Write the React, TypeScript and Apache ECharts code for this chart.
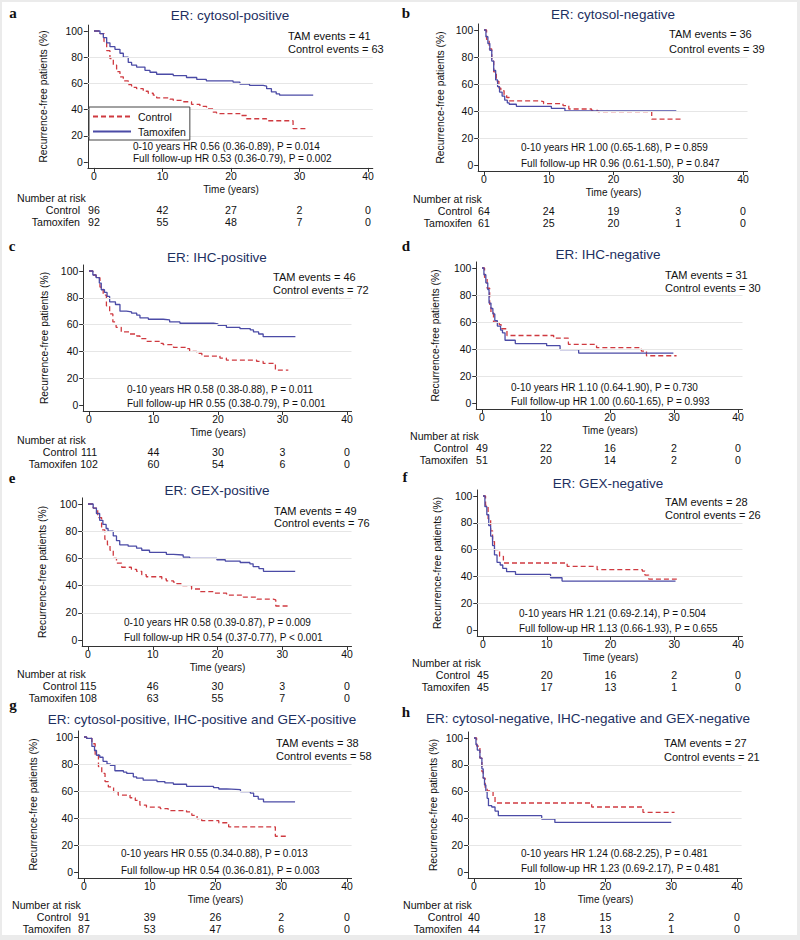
import React, { useEffect, useRef } from "react";
import * as echarts from "echarts";

// ---------- tick values ----------
const X_TICKS = [0, 10, 20, 30, 40];
const Y_TICKS = [0, 20, 40, 60, 80, 100];
const GRID_LINES = [20, 40, 60, 80];
const RISK_TIMES = [0, 10, 20, 30, 40];

// ---------- panel a : ER cytosol-positive ----------
const aTamT = [0, 0.87, 1.36, 1.85, 2.33, 3.06, 3.79, 4.28, 5.0, 5.49, 6.22, 7.44, 8.17, 9.14, 11.57, 13.5, 15.0, 16.4, 20.3, 21.3, 22.7, 24.7, 25.2, 25.9, 26.6, 27.1, 32.0];
const aTamS = [100, 98, 95, 91, 88, 86, 83, 80, 76, 74, 72.5, 70, 68.5, 67, 66, 64.5, 63, 62, 61, 59.5, 58.5, 58, 56, 53.5, 52, 51, 51];
const aConT = [0, 0.87, 1.46, 1.85, 2.33, 2.82, 3.3, 3.79, 4.28, 5.0, 5.49, 6.22, 7.19, 7.92, 8.65, 9.14, 11.08, 11.57, 13.03, 14.24, 15.46, 16.43, 17.4, 17.89, 21.29, 22.26, 25.18, 29.06, 31.0];
const aConS = [100, 98, 92, 85, 79, 74, 69, 65, 62, 59, 57, 56, 54, 52.5, 51, 49, 48, 47, 46, 44, 42.5, 40.5, 38, 37, 35.5, 33, 31.5, 25.5, 25.5];
const aRiskCon = [96, 42, 27, 2, 0];
const aRiskTam = [92, 55, 48, 7, 0];

// ---------- panel b : ER cytosol-negative ----------
const bTamT = [0, 0.3, 0.6, 0.9, 1.2, 1.5, 1.8, 2.1, 2.4, 2.8, 3.2, 3.6, 3.9, 5.0, 10.4, 12.5, 29.7];
const bTamS = [100, 95, 90, 85, 77, 70, 63, 58, 54, 51, 48, 46, 45, 43.5, 42, 40, 40];
const bConT = [0, 0.4, 0.8, 1.2, 1.5, 1.9, 2.3, 2.6, 3.1, 3.5, 3.9, 8.4, 9.2, 12.2, 13.1, 16.6, 17.6, 25.9, 30.7];
const bConS = [100, 93, 86, 77, 69, 62, 57, 55, 52, 50, 47.5, 47, 45.5, 44, 41.5, 40.5, 39.5, 34, 34];
const bRiskCon = [64, 24, 19, 3, 0];
const bRiskTam = [61, 25, 20, 1, 0];

// ---------- panel c : ER IHC-positive ----------
const cTamT = [0, 0.6, 1.1, 1.6, 1.9, 2.4, 2.8, 3.2, 4.1, 4.8, 5.8, 6.6, 7.4, 7.9, 9.2, 11.5, 12.5, 14.1, 19.3, 20.0, 21.3, 23.4, 25.0, 25.5, 26.3, 27.0, 32.0];
const cTamS = [100, 97, 95, 91, 86, 84, 81, 77, 75, 70, 69.5, 68.5, 67, 65, 64, 63.5, 62, 61, 60.5, 59.5, 58, 57, 56, 54.5, 53, 51, 51];
const cConT = [0, 0.6, 1.1, 1.7, 2.2, 2.7, 3.2, 3.7, 4.2, 5.0, 6.3, 7.4, 7.9, 8.9, 11.0, 11.5, 13.1, 15.1, 15.6, 16.7, 17.5, 20.3, 21.3, 26.0, 27.0, 28.9, 30.9];
const cConS = [100, 97, 95, 88, 82, 74, 68, 62, 58, 54.5, 53, 51.5, 49.5, 47.5, 46, 45, 43, 42, 40, 38.5, 36.5, 35, 33.5, 32.5, 31, 26, 26];
const cRiskCon = [111, 44, 30, 3, 0];
const cRiskTam = [102, 60, 54, 6, 0];

// ---------- panel d : ER IHC-negative ----------
const dTamT = [0, 0.3, 0.6, 0.9, 1.1, 1.4, 1.7, 2.0, 2.4, 2.9, 3.2, 3.6, 5.2, 10.1, 12.2, 15.1, 29.9];
const dTamS = [100, 95, 89, 84, 74, 70, 66, 61, 57, 54, 52, 46.5, 44, 42.5, 39.5, 37, 37];
const dConT = [0, 0.4, 0.8, 1.2, 1.4, 1.8, 2.7, 3.0, 3.9, 11.2, 13.5, 17.9, 24.9, 25.7, 30.4];
const dConS = [100, 93, 85, 73, 67, 60, 58, 55, 50, 48, 43.5, 41, 38.5, 35, 35];
const dRiskCon = [49, 22, 16, 2, 0];
const dRiskTam = [51, 20, 14, 2, 0];

// ---------- panel e : ER GEX-positive ----------
const eTamT = [0, 0.8, 1.3, 1.8, 2.3, 2.8, 3.1, 3.9, 4.4, 4.9, 6.2, 7.5, 8.3, 9.5, 12.1, 13.2, 14.7, 15.7, 19.9, 21.2, 23.5, 25.0, 25.5, 26.4, 27.1, 32.0];
const eTamS = [100, 97, 93, 88, 85, 82, 80, 76.5, 73, 70, 69, 67.5, 66, 64.5, 63, 62.5, 61, 60, 59, 58, 57, 56, 54, 52.5, 50.5, 50.5];
const eConT = [0, 0.8, 1.5, 2.1, 2.6, 3.0, 3.4, 3.9, 4.4, 5.2, 6.7, 7.5, 8.3, 9.0, 11.4, 12.1, 13.2, 13.7, 14.5, 16.0, 17.3, 19.4, 21.4, 24.0, 26.1, 28.6, 29.0, 31.2];
const eConS = [100, 97, 90, 81, 74, 70, 66, 60, 56.5, 53.5, 52, 50.5, 48, 46.5, 45, 43.5, 42.5, 41.5, 40, 37.5, 35.5, 34.5, 33, 31.5, 30, 29.5, 25, 25];
const eRiskCon = [115, 46, 30, 3, 0];
const eRiskTam = [108, 63, 55, 7, 0];

// ---------- panel f : ER GEX-negative ----------
const fTamT = [0, 0.3, 0.6, 0.9, 1.2, 1.5, 1.8, 2.2, 2.7, 3.1, 3.7, 5.1, 10.6, 12.4, 30.2];
const fTamS = [100, 92, 86, 78, 70, 63, 56, 50.5, 48.5, 46, 43.5, 41.5, 39, 36.5, 36.5];
const fConT = [0, 0.4, 0.8, 1.2, 1.5, 1.8, 2.6, 3.2, 13.2, 17.9, 25.0, 25.4, 26.0, 30.4];
const fConS = [100, 93, 83, 74, 66, 60, 55, 50, 47.5, 45, 44, 41, 38, 38];
const fRiskCon = [45, 20, 16, 2, 0];
const fRiskTam = [45, 17, 13, 1, 0];

// ---------- panel g : all positive ----------
const gTamT = [0, 0.4, 1.2, 1.6, 1.9, 2.4, 2.9, 3.5, 4.0, 4.7, 6.0, 6.5, 7.5, 8.0, 9.0, 11.1, 12.3, 13.6, 15.6, 19.7, 20.5, 21.7, 23.8, 25.3, 25.8, 26.5, 27.3, 32.1];
const gTamS = [100, 99, 93, 90, 86.5, 85, 82, 80, 79, 75, 74, 73, 70.5, 69.5, 68, 67, 66, 65, 63.5, 62.5, 61.5, 61, 59.5, 58.5, 56, 54, 52, 52];
const gConT = [0, 0.4, 1.2, 1.7, 2.2, 2.7, 3.2, 3.7, 4.5, 5.2, 7.0, 7.8, 8.5, 9.5, 11.6, 12.8, 15.6, 16.4, 17.2, 17.9, 20.5, 22.0, 29.1, 30.9];
const gConS = [100, 99, 95, 87, 78, 73, 67, 63, 59.5, 57, 55, 53, 49.5, 48, 47, 45.5, 44.5, 42, 39.5, 38, 36.5, 33.5, 26.5, 26.5];
const gRiskCon = [91, 39, 26, 2, 0];
const gRiskTam = [87, 53, 47, 6, 0];

// ---------- panel h : all negative ----------
const hTamT = [0, 0.3, 0.5, 0.9, 1.2, 1.4, 1.6, 1.8, 2.0, 2.2, 2.7, 3.2, 3.7, 10.3, 12.3, 30.0];
const hTamS = [100, 95, 91, 85, 77, 70, 65, 60, 55, 49.5, 48.5, 45.5, 42, 39.5, 37, 37];
const hConT = [0, 0.4, 0.9, 1.2, 1.4, 1.7, 2.0, 2.9, 3.2, 17.9, 25.7, 30.5];
const hConS = [100, 94, 85, 75, 70, 63, 60.5, 56, 51.5, 48.5, 44.5, 44.5];
const hRiskCon = [40, 18, 15, 2, 0];
const hRiskTam = [44, 17, 13, 1, 0];

// ---------- texts ----------
const LETTERS = ["a", "b", "c", "d", "e", "f", "g", "h"];
const TITLES = [
  "ER: cytosol-positive",
  "ER: cytosol-negative",
  "ER: IHC-positive",
  "ER: IHC-negative",
  "ER: GEX-positive",
  "ER: GEX-negative",
  "ER: cytosol-positive, IHC-positive and GEX-positive",
  "ER: cytosol-negative, IHC-negative and GEX-negative",
];
const TAM_EVENTS = [41, 36, 46, 31, 49, 28, 38, 27];
const CON_EVENTS = [63, 39, 72, 30, 76, 26, 58, 21];
const HR10 = [
  "0-10 years HR 0.56 (0.36-0.89), P = 0.014",
  "0-10 years HR 1.00 (0.65-1.68), P = 0.859",
  "0-10 years HR 0.58 (0.38-0.88), P = 0.011",
  "0-10 years HR 1.10 (0.64-1.90), P = 0.730",
  "0-10 years HR 0.58 (0.39-0.87), P = 0.009",
  "0-10 years HR 1.21 (0.69-2.14), P = 0.504",
  "0-10 years HR 0.55 (0.34-0.88), P = 0.013",
  "0-10 years HR 1.24 (0.68-2.25), P = 0.481",
];
const HRFULL = [
  "Full follow-up HR 0.53 (0.36-0.79), P = 0.002",
  "Full follow-up HR 0.96 (0.61-1.50), P = 0.847",
  "Full follow-up HR 0.55 (0.38-0.79), P = 0.001",
  "Full follow-up HR 1.00 (0.60-1.65), P = 0.993",
  "Full follow-up HR 0.54 (0.37-0.77), P < 0.001",
  "Full follow-up HR 1.13 (0.66-1.93), P = 0.655",
  "Full follow-up HR 0.54 (0.36-0.81), P = 0.003",
  "Full follow-up HR 1.23 (0.69-2.17), P = 0.481",
];

const CURVES = [
  { tamT: aTamT, tamS: aTamS, conT: aConT, conS: aConS, riskCon: aRiskCon, riskTam: aRiskTam },
  { tamT: bTamT, tamS: bTamS, conT: bConT, conS: bConS, riskCon: bRiskCon, riskTam: bRiskTam },
  { tamT: cTamT, tamS: cTamS, conT: cConT, conS: cConS, riskCon: cRiskCon, riskTam: cRiskTam },
  { tamT: dTamT, tamS: dTamS, conT: dConT, conS: dConS, riskCon: dRiskCon, riskTam: dRiskTam },
  { tamT: eTamT, tamS: eTamS, conT: eConT, conS: eConS, riskCon: eRiskCon, riskTam: eRiskTam },
  { tamT: fTamT, tamS: fTamS, conT: fConT, conS: fConS, riskCon: fRiskCon, riskTam: fRiskTam },
  { tamT: gTamT, tamS: gTamS, conT: gConT, conS: gConS, riskCon: gRiskCon, riskTam: gRiskTam },
  { tamT: hTamT, tamS: hTamS, conT: hConT, conS: hConS, riskCon: hRiskCon, riskTam: hRiskTam },
];

// ---------- layout (pixels) ----------
const LAYOUT = [
  { x0: 94, x40: 368, y100: 31, y0: 162, yNameX: 43, letter: [13, 13], title: [230, 15], ev: [288, 36, 49], hr: [133, 146, 158], timeY: 188, nar: [17, 200], lblR: 80, rowC: 211, rowT: 221 },
  { x0: 484, x40: 743, y100: 30, y0: 165, yNameX: 440, letter: [406, 13], title: [613, 14], ev: [669, 34, 49], hr: [521, 147, 163], timeY: 192, nar: [413, 202], lblR: 472, rowC: 212, rowT: 222 },
  { x0: 89, x40: 347, y100: 271, y0: 405, yNameX: 44, letter: [12, 246], title: [217, 257], ev: [273, 277, 290], hr: [127, 389, 403], timeY: 429, nar: [17, 441], lblR: 77, rowC: 452, rowT: 463 },
  { x0: 482, x40: 738, y100: 268, y0: 403, yNameX: 435, letter: [406, 246], title: [608, 254], ev: [665, 275, 288], hr: [511, 387, 401], timeY: 427, nar: [410, 438], lblR: 468, rowC: 449, rowT: 459 },
  { x0: 88, x40: 347, y100: 504, y0: 640, yNameX: 42, letter: [12, 478], title: [217, 490], ev: [274, 511, 523], hr: [124, 622, 637], timeY: 664, nar: [17, 676], lblR: 77, rowC: 686, rowT: 697 },
  { x0: 483, x40: 738, y100: 496, y0: 630, yNameX: 437, letter: [405, 477], title: [608, 483], ev: [665, 502, 515], hr: [519, 613, 628], timeY: 654, nar: [412, 665], lblR: 470, rowC: 676, rowT: 686 },
  { x0: 84, x40: 347, y100: 737, y0: 872, yNameX: 33, letter: [13, 705], title: [202, 719], ev: [276, 743, 756], hr: [121, 853, 870], timeY: 897, nar: [12, 907], lblR: 71, rowC: 918, rowT: 928 },
  { x0: 474, x40: 737, y100: 738, y0: 872, yNameX: 433, letter: [406, 712], title: [588, 718], ev: [664, 743, 757], hr: [521, 853, 868], timeY: 897, nar: [403, 907], lblR: 462, rowC: 918, rowT: 928 },
];

const XMIN = -0.9;
const XMAX = 40.7;
const YMIN = -4.5;
const YMAX = 104.5;

const FONT = "'Liberation Sans', Arial, Helvetica, sans-serif";
const SERIF = "'Liberation Serif', 'DejaVu Serif', serif";
const RED = "#cf3a40";
const BLUE = "#4b4ba6";
const AXIS = "#333333";
const TITLE_COLOR = "#1d2f5f";
const EV_SIZE = 11;
const HR_SIZE = 10;
const RISK_SIZE = 10.6;
const LABEL_SIZE = 10.3;
const TIME_SIZE = 10;
const TICK_SIZE = 10.4;
const TICK_MARGIN = 3.5;

const pts = (t: number[], s: number[]) => t.map((v, j) => [v, s[j]]);

function buildOption() {
  const grid: any[] = [];
  const xAxis: any[] = [];
  const yAxis: any[] = [];
  const series: any[] = [];
  LAYOUT.forEach((L, i) => {
    const sx = (L.x40 - L.x0) / 40;
    const sy = (L.y0 - L.y100) / 100;
    grid.push({
      left: L.x0 + XMIN * sx,
      top: L.y100 - (YMAX - 100) * sy,
      width: (XMAX - XMIN) * sx,
      height: (YMAX - YMIN) * sy,
    });
    xAxis.push({
      type: "value",
      gridIndex: i,
      min: XMIN,
      max: XMAX,
      axisLine: { show: true, onZero: false, lineStyle: { color: AXIS, width: 1 } },
      axisTick: { show: true, length: 4, customValues: X_TICKS, lineStyle: { color: AXIS, width: 1 } },
      axisLabel: { customValues: X_TICKS, fontSize: TICK_SIZE, color: "#111", margin: TICK_MARGIN, fontFamily: FONT },
      splitLine: { show: false },
    });
    yAxis.push({
      type: "value",
      gridIndex: i,
      min: YMIN,
      max: YMAX,
      axisLine: { show: true, onZero: false, lineStyle: { color: AXIS, width: 1 } },
      axisTick: { show: true, length: 4, customValues: Y_TICKS, lineStyle: { color: AXIS, width: 1 } },
      axisLabel: { customValues: Y_TICKS, fontSize: TICK_SIZE, color: "#111", margin: 5, fontFamily: FONT },
      splitLine: { show: false },
    });
    const C = CURVES[i];
    series.push({
      type: "line",
      name: "grid" + i,
      xAxisIndex: i,
      yAxisIndex: i,
      data: [[0, 100]],
      symbol: "none",
      silent: true,
      lineStyle: { opacity: 0 },
      z: 1,
      markLine: {
        silent: true,
        symbol: ["none", "none"],
        label: { show: false },
        lineStyle: { color: "#e6e6e6", type: "solid", width: 1 },
        data: GRID_LINES.map((v) => ({ yAxis: v })),
      },
    });
    series.push({
      type: "line",
      name: "Control",
      xAxisIndex: i,
      yAxisIndex: i,
      step: "end",
      symbol: "none",
      data: pts(C.conT, C.conS),
      lineStyle: { color: RED, width: 1.3, type: [5, 3] },
      itemStyle: { color: RED },
      z: 3,
    });
    series.push({
      type: "line",
      name: "Tamoxifen",
      xAxisIndex: i,
      yAxisIndex: i,
      step: "end",
      symbol: "none",
      data: pts(C.tamT, C.tamS),
      lineStyle: { color: BLUE, width: 1.3, type: "solid" },
      itemStyle: { color: BLUE },
      z: 4,
    });
  });
  return {
    animation: false,
    backgroundColor: "#ffffff",
    grid,
    xAxis,
    yAxis,
    series,
    legend: {
      show: true,
      data: ["Control", "Tamoxifen"],
      orient: "vertical",
      left: 89,
      top: 107,
      itemWidth: 38,
      itemHeight: 10,
      itemGap: 4,
      padding: [4, 4, 3, 3],
      borderColor: "#444",
      borderWidth: 1,
      borderRadius: 0,
      backgroundColor: "#ffffff",
      selectedMode: false,
      itemStyle: { opacity: 0 },
      textStyle: { fontSize: 10.5, color: "#111", fontFamily: FONT, padding: [0, 0, 0, 2] },
      z: 10,
    },
  };
}

function txt(x: number, y: number, text: string, size: number, align: string, extra: any = {}) {
  return {
    type: "text",
    x,
    y,
    z: 20,
    silent: true,
    style: {
      text,
      fontSize: size,
      fontFamily: FONT,
      fill: "#111",
      align,
      verticalAlign: "middle",
      ...extra,
    },
  };
}

function buildGraphics(chart: any) {
  const els: any[] = [];
  // light grey frame
  els.push({ type: "rect", shape: { x: 0, y: 0, width: 800, height: 2 }, style: { fill: "#ebebeb" }, z: 30, silent: true });
  els.push({ type: "rect", shape: { x: 0, y: 0, width: 2, height: 940 }, style: { fill: "#ebebeb" }, z: 30, silent: true });
  els.push({ type: "rect", shape: { x: 797, y: 0, width: 3, height: 940 }, style: { fill: "#ebebeb" }, z: 30, silent: true });
  els.push({ type: "rect", shape: { x: 0, y: 935, width: 800, height: 5 }, style: { fill: "#ebebeb" }, z: 30, silent: true });

  LAYOUT.forEach((L, i) => {
    const C = CURVES[i];
    els.push(txt(L.letter[0], L.letter[1], LETTERS[i], 15, "center", { fontFamily: SERIF, fontWeight: "bold" }));
    els.push(txt(L.title[0], L.title[1], TITLES[i], 13.5, "center", { fill: TITLE_COLOR }));
    els.push(txt(L.ev[0], L.ev[1], "TAM events = " + TAM_EVENTS[i], EV_SIZE, "left"));
    els.push(txt(L.ev[0], L.ev[2], "Control events = " + CON_EVENTS[i], EV_SIZE, "left"));
    els.push(txt(L.hr[0], L.hr[1], HR10[i], HR_SIZE, "left"));
    els.push(txt(L.hr[0], L.hr[2], HRFULL[i], HR_SIZE, "left"));

    const top = chart.convertToPixel({ gridIndex: i }, [0, YMAX])[1];
    const bot = chart.convertToPixel({ gridIndex: i }, [0, YMIN])[1];
    els.push({
      type: "text",
      x: L.yNameX,
      y: (top + bot) / 2,
      rotation: Math.PI / 2,
      z: 20,
      silent: true,
      style: {
        text: "Recurrence-free patients (%)",
        fontSize: LABEL_SIZE,
        fontFamily: FONT,
        fill: "#111",
        align: "center",
        verticalAlign: "middle",
      },
    });
    const x20 = chart.convertToPixel({ gridIndex: i }, [20, 0])[0];
    const timeY = Math.max(L.timeY, bot + TICK_MARGIN + TICK_SIZE * 1.15 + TIME_SIZE * 0.6);
    els.push(txt(x20, timeY, "Time (years)", TIME_SIZE, "center"));

    const mid = (L.rowC + L.rowT) / 2;
    const rowC = mid - 6;
    const rowT = mid + 6;
    const narY = rowC - 12;
    els.push(txt(L.nar[0], narY, "Number at risk", RISK_SIZE, "left"));
    els.push(txt(L.lblR, rowC, "Control", RISK_SIZE, "right"));
    els.push(txt(L.lblR, rowT, "Tamoxifen", RISK_SIZE, "right"));
    RISK_TIMES.forEach((t, k) => {
      const px = chart.convertToPixel({ gridIndex: i }, [t, 0])[0];
      els.push(txt(px, rowC, String(C.riskCon[k]), RISK_SIZE, "center"));
      els.push(txt(px, rowT, String(C.riskTam[k]), RISK_SIZE, "center"));
    });
  });
  return els;
}

export default function App() {
  const ref = useRef<HTMLDivElement>(null);
  useEffect(() => {
    const el = ref.current;
    if (!el) return;
    const chart = echarts.init(el, null, { renderer: "svg", width: 800, height: 940 });
    chart.setOption(buildOption() as any);
    chart.setOption({ graphic: { elements: buildGraphics(chart) } } as any);
    return () => {
      chart.dispose();
    };
  }, []);
  return (
    <div
      ref={ref}
      style={{ position: "absolute", left: 0, top: 0, width: 800, height: 940, background: "#fff" }}
    />
  );
}
